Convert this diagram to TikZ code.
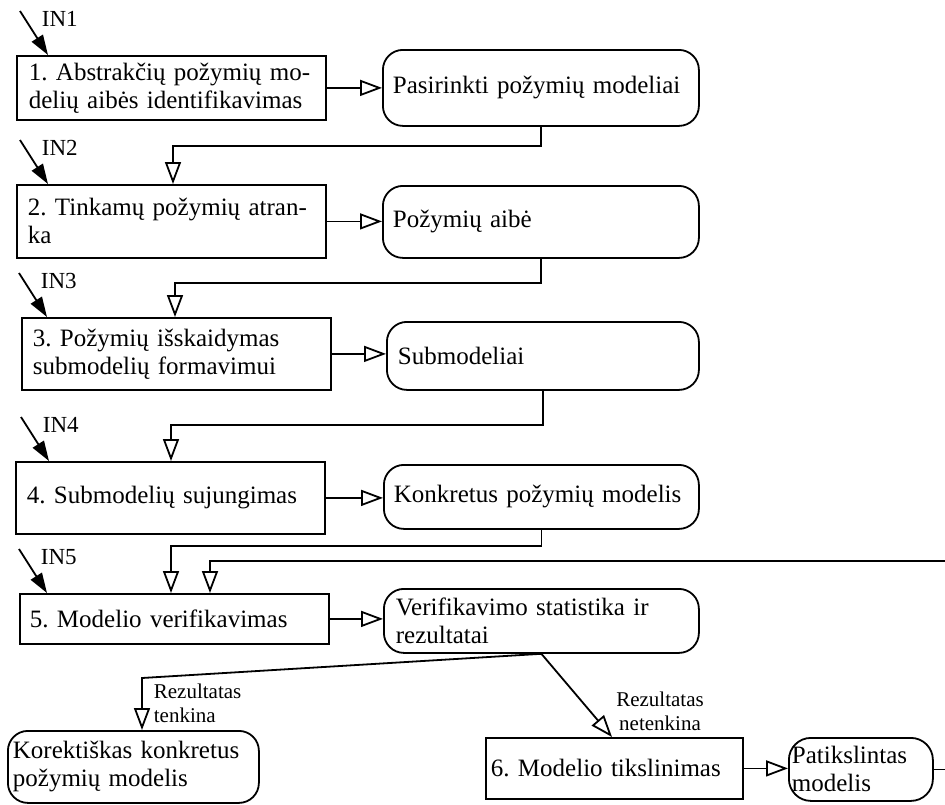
\documentclass[tikz,border=0pt]{standalone}
\usepackage{fontspec}
\setmainfont{Liberation Serif}
\usetikzlibrary{arrows.meta,calc}
\frenchspacing

\newcommand\bigtxt{\fontsize{25}{28}\selectfont}
\newcommand\intxt{\fontsize{23}{24}\selectfont}
\newcommand\smalltxt{\fontsize{21}{24}\selectfont}

\begin{document}
\begin{tikzpicture}[x=1pt,y=-1pt,
  line width=1.8pt,
  procbox/.style={draw, rectangle, line width=1.8pt, inner xsep=11pt, inner ysep=0pt,
    align=left, anchor=north west, font=\bigtxt},
  resbox/.style={procbox, rounded corners=20pt},
  flow/.style={draw, line width=1.8pt, -{Triangle[open, length=22pt, width=16pt, line width=1.8pt]}},
  inarrow/.style={draw, line width=1.8pt, -{Triangle[length=20pt, width=13pt]}},
  inlabel/.style={anchor=base west, inner sep=0pt, font=\intxt},
  condlabel/.style={inner sep=0pt, font=\smalltxt}]

\useasboundingbox (0,0) rectangle (945,804);
\clip (0,0) rectangle (945,804);

% process steps
\node[procbox, text width=285pt, inner xsep=12pt, minimum height=64pt] (p1) at (16,55)
  {1. Abstrakčių požymių mo-\\delių aibės identifikavimas};
\node[procbox, text width=287pt, minimum height=73pt] (p2) at (16,184)
  {2. Tinkamų požymių atran-\\ka};
\node[procbox, text width=287pt, minimum height=72pt] (p3) at (21,317)
  {3. Požymių išskaidymas\\submodelių formavimui};
\node[procbox, text width=287pt, minimum height=72pt] (p4) at (15,461)
  {4. Submodelių sujungimas};
\node[procbox, text width=289pt, inner xsep=10pt, minimum height=50pt] (p5) at (19,593)
  {5. Modelio verifikavimas};
\node[procbox, text width=247pt, inner xsep=5pt, minimum height=61pt] (p6) at (485,737)
  {6. Modelio tikslinimas};

% results
\node[resbox, text width=296pt, inner xsep=10pt, minimum height=76pt] (r1) at (382,49)
  {Pasirinkti požymių modeliai};
\node[resbox, text width=296pt, inner xsep=10pt, minimum height=72pt] (r2) at (382,185)
  {Požymių aibė};
\node[resbox, text width=290pt, minimum height=68pt] (r3) at (386,321)
  {Submodeliai};
\node[resbox, text width=295pt, inner xsep=10pt, minimum height=64pt] (r4) at (383,464)
  {Konkretus požymių modelis};
\node[resbox, text width=291pt, inner xsep=12pt, minimum height=64pt] (r5) at (383,588)
  {Verifikavimo statistika ir\\rezultatai};
\node[resbox, text width=241pt, inner xsep=5pt, minimum height=72pt] (k) at (7,730)
  {Korektiškas konkretus\\požymių modelis};
\node[resbox, text width=138pt, inner xsep=3pt, minimum height=63pt, rounded corners=22pt] (r6) at (788,737)
  {Patikslintas\\modelis};

% inputs
\foreach \b/\n/\dx in {p1/1/32, p2/2/32, p3/3/26, p4/4/34, p5/5/28}{
  \coordinate (tip\n) at ($(\b.north west)+(\dx,0)$);
  \draw[inarrow] ($(tip\n)+(-28,-44)$) -- (tip\n);
  \node[inlabel] (in\n) at ($(\b.north west)+(\dx-7,-29)$) {IN\n};
}

% step -> result
\draw[flow] (p1.east) -- (p1.east -| r1.west);
\draw[flow] (p2.east) -- (p2.east -| r2.west);
\draw[flow] (p3.east) -- (p3.east -| r3.west);
\draw[flow] (p4.east) -- (p4.east -| r4.west);
\draw[flow] (p5.east) -- (p5.east -| r5.west);
\draw[flow] (p6.east) -- (p6.east -| r6.west);

% result -> next step
\draw[flow] (r1.south) |- ($(p2.north west)+(157,-38)$) -- ($(p2.north west)+(157,0)$);
\draw[flow] (r2.south) |- ($(p3.north west)+(154,-34)$) -- ($(p3.north west)+(154,0)$);
\draw[flow] (r3.south) |- ($(p4.north west)+(156,-36)$) -- ($(p4.north west)+(156,0)$);
\draw[flow] (r4.south) |- ($(p5.north west)+(152,-47)$) -- ($(p5.north west)+(152,0)$);

% refined model fed back to verification
\coordinate (loop) at (952,561);
\draw[flow] (r6.east) -| (loop) -- ($(p5.north west)+(191,-32)$) -- ($(p5.north west)+(191,0)$);

% decision on verification results
\draw[flow] (r5.south) -- ($(k.north west)+(135,-52)$) -- ($(k.north west)+(135,0)$);
\draw[flow] (r5.south) -- ($(p6.north west)+(127,0)$);
\node[condlabel, anchor=north west, align=left] (ok) at (153,683) {Rezultatas\\tenkina};
\node[condlabel, anchor=north, align=center] (nok) at (660,691) {Rezultatas\\netenkina};

\end{tikzpicture}
\end{document}
